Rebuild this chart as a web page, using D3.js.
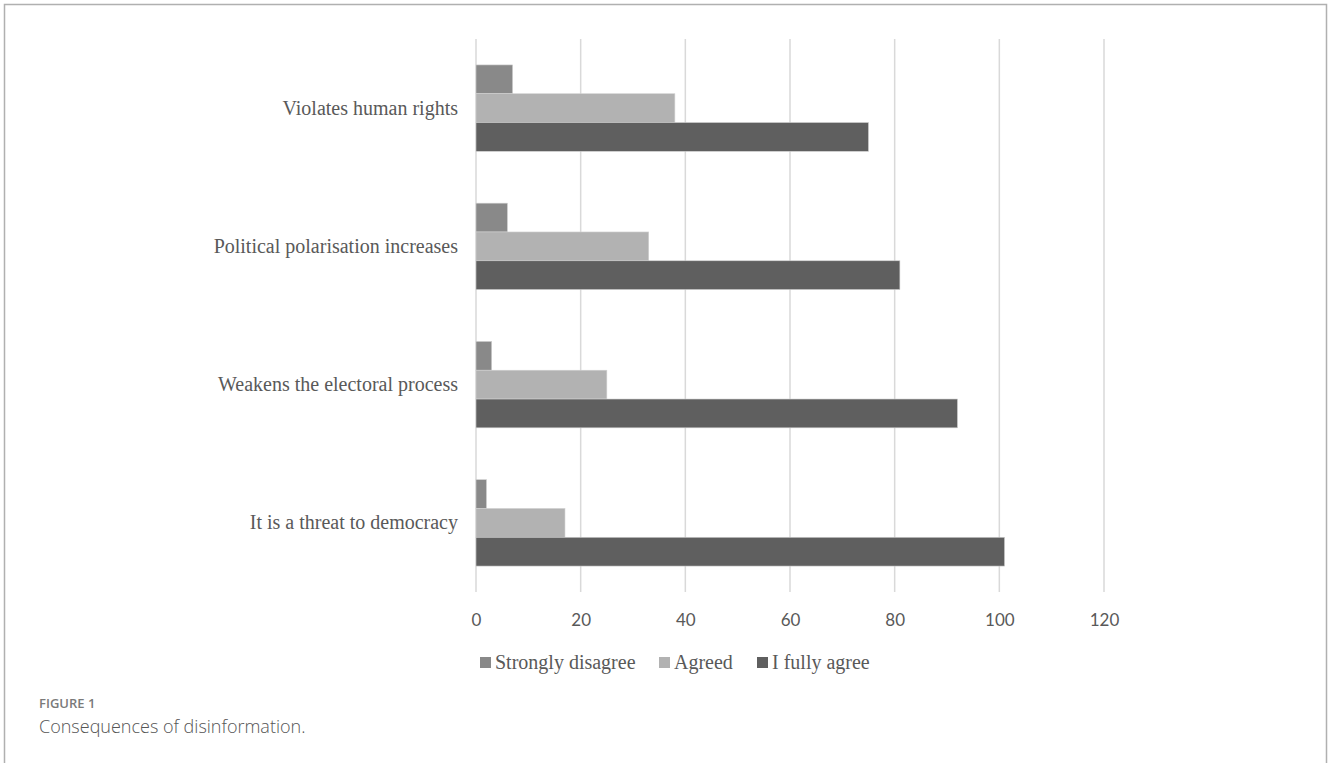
<!DOCTYPE html>
<html>
<head>
<meta charset="utf-8">
<script src="https://cdn.jsdelivr.net/npm/d3@7"></script>
<style>
  html, body { margin: 0; padding: 0; background: #fff; }
  svg { display: block; }
</style>
</head>
<body>
<svg id="chart" width="1328" height="763"></svg>
<script>
// Survey answers about the consequences of disinformation
const categories = [
  "Violates human rights",
  "Political polarisation increases",
  "Weakens the electoral process",
  "It is a threat to democracy"
];
const seriesNames = ["Strongly disagree", "Agreed", "I fully agree"];
const stronglyDisagree = [7, 6, 3, 2];
const agreed = [38, 33, 25, 17];
const fullyAgree = [75, 81, 92, 101];
const tickValues = [0, 20, 40, 60, 80, 100, 120];

const seriesValues = [stronglyDisagree, agreed, fullyAgree];
const seriesColors = ["#898989", "#b2b2b2", "#5f5f5f"];

const svg = d3.select("#chart");

// Figure frame
svg.append("path")
  .attr("d", "M4.5,763 L4.5,4.5 L1326.5,4.5 L1326.5,763")
  .attr("fill", "none")
  .attr("stroke", "#b0b0b0")
  .attr("stroke-width", 1.5);

const plot = { left: 476, right: 1104, top: 39, bottom: 592 };

const x = d3.scaleLinear().domain([0, 120]).range([plot.left, plot.right]);
const y = d3.scaleBand().domain(categories).range([plot.top, plot.bottom]).paddingInner(0.375).paddingOuter(0.1875);
const ySub = d3.scaleBand().domain(seriesNames).range([0, y.bandwidth()]);

// Vertical gridlines
svg.append("g")
  .selectAll("line")
  .data(tickValues)
  .join("line")
  .attr("x1", d => x(d)).attr("x2", d => x(d))
  .attr("y1", plot.top).attr("y2", plot.bottom)
  .attr("stroke", "#d9d9d9")
  .attr("stroke-width", 1.5);

// Bars
const rows = [];
categories.forEach((c, i) => {
  seriesNames.forEach((s, j) => {
    rows.push({ category: c, series: s, value: seriesValues[j][i], color: seriesColors[j] });
  });
});

svg.append("g")
  .selectAll("rect")
  .data(rows)
  .join("rect")
  .attr("x", x(0))
  .attr("y", d => y(d.category) + ySub(d.series))
  .attr("width", d => x(d.value) - x(0))
  .attr("height", ySub.bandwidth())
  .attr("fill", d => d.color)
  .attr("stroke", "#d0d0d0")
  .attr("stroke-width", 0.6);

// Category labels
const yAxis = svg.append("g")
  .attr("transform", `translate(${plot.left - 18},0)`)
  .call(d3.axisLeft(y).tickSize(0).tickPadding(0));
yAxis.select(".domain").remove();
yAxis.selectAll("text")
  .attr("font-family", "'Liberation Serif', 'Times New Roman', serif")
  .attr("font-size", 20)
  .attr("fill", "#595959");

// Value axis labels
const xAxis = svg.append("g")
  .attr("transform", `translate(0,${plot.bottom + 22})`)
  .call(d3.axisBottom(x).tickValues(tickValues).tickSize(0).tickPadding(0));
xAxis.select(".domain").remove();
xAxis.selectAll("text")
  .attr("font-family", "'Liberation Sans Narrow', 'Arial Narrow', Lato, sans-serif")
  .attr("font-size", 17)
  .attr("fill", "#595959");

// Legend
const legendItems = [
  { name: seriesNames[0], color: seriesColors[0], x: 480 },
  { name: seriesNames[1], color: seriesColors[1], x: 659 },
  { name: seriesNames[2], color: seriesColors[2], x: 757 }
];
const legend = svg.append("g");
legend.selectAll("rect")
  .data(legendItems)
  .join("rect")
  .attr("x", d => d.x)
  .attr("y", 657)
  .attr("width", 11)
  .attr("height", 11)
  .attr("fill", d => d.color);
legend.selectAll("text")
  .data(legendItems)
  .join("text")
  .attr("x", d => d.x + 15)
  .attr("y", 669)
  .attr("font-family", "'Liberation Serif', 'Times New Roman', serif")
  .attr("font-size", 20)
  .attr("fill", "#595959")
  .text(d => d.name);

// Caption
svg.append("text")
  .attr("x", 39)
  .attr("y", 708)
  .attr("font-family", "'Open Sans', sans-serif")
  .attr("font-size", 13)
  .attr("font-weight", 600)
  .attr("fill", "#7a7a7a")
  .text("FIGURE 1");
svg.append("text")
  .attr("x", 39)
  .attr("y", 733)
  .attr("font-family", "'Open Sans', sans-serif")
  .attr("font-size", 18)
  .attr("font-weight", 300)
  .attr("fill", "#555")
  .text("Consequences of disinformation.");
</script>
</body>
</html>
